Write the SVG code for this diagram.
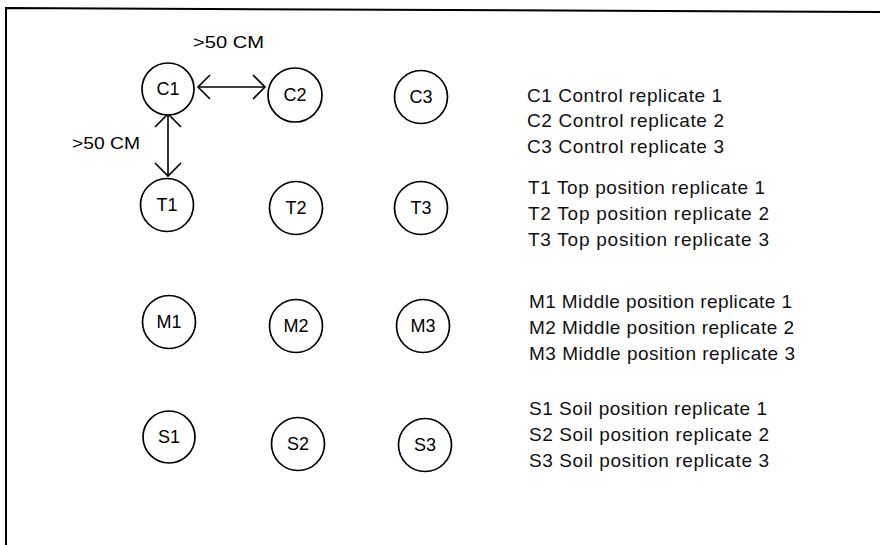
<svg xmlns="http://www.w3.org/2000/svg" width="880" height="545" viewBox="0 0 880 545">
<defs>
<style>
.frame{fill:none;stroke:#000;stroke-width:2}
.node circle{fill:#fff;stroke:#000;stroke-width:1.7}
.node text{font-family:"Liberation Sans",Arial,sans-serif;font-size:18px;fill:#000;text-anchor:middle}
.conn line,.conn polyline{fill:none;stroke:#000;stroke-width:1.6}
.lbl{font-family:"Liberation Sans",Arial,sans-serif;font-size:17px;fill:#000}
.leg{font-family:"Liberation Sans",Arial,sans-serif;font-size:19px;fill:#111}
</style>
</defs>
<rect width="880" height="545" fill="#fff"/>
<polyline class="frame" points="6,545 6,8 880,12"/>

<g id="connectors" class="conn">
<g id="arrow-C1-C2">
<line x1="198" y1="87" x2="265" y2="87"/>
<polyline points="210,75 198,87 210,99"/>
<polyline points="253,75 265,87 253,99"/>
</g>
<g id="arrow-C1-T1">
<line x1="168" y1="114" x2="168" y2="176"/>
<polyline points="155,127 168,114 181,127"/>
<polyline points="155,163 168,176 181,163"/>
</g>
</g>

<text class="lbl" x="193" y="48" textLength="71" lengthAdjust="spacingAndGlyphs">&gt;50 CM</text>
<text class="lbl" x="72" y="149" textLength="68" lengthAdjust="spacingAndGlyphs">&gt;50 CM</text>

<g id="C1" class="node"><circle cx="168" cy="89" r="26"/><text x="168" y="95">C1</text></g>
<g id="C2" class="node"><circle cx="295" cy="95" r="27"/><text x="295" y="101">C2</text></g>
<g id="C3" class="node"><circle cx="421" cy="97" r="26.5"/><text x="421" y="103">C3</text></g>
<g id="T1" class="node"><circle cx="167" cy="205" r="26.5"/><text x="167" y="211">T1</text></g>
<g id="T2" class="node"><circle cx="296" cy="208" r="26.5"/><text x="296" y="214">T2</text></g>
<g id="T3" class="node"><circle cx="421" cy="208" r="26.5"/><text x="421" y="214">T3</text></g>
<g id="M1" class="node"><circle cx="169" cy="322" r="26.5"/><text x="169" y="328">M1</text></g>
<g id="M2" class="node"><circle cx="296" cy="326" r="26.5"/><text x="296" y="332">M2</text></g>
<g id="M3" class="node"><circle cx="423" cy="326" r="26.5"/><text x="423" y="332">M3</text></g>
<g id="S1" class="node"><circle cx="169" cy="437" r="26"/><text x="169" y="443">S1</text></g>
<g id="S2" class="node"><circle cx="298" cy="444" r="26.5"/><text x="298" y="450">S2</text></g>
<g id="S3" class="node"><circle cx="425" cy="445" r="26.5"/><text x="425" y="451">S3</text></g>

<g id="legend">
<text class="leg" x="527" y="102" textLength="195" lengthAdjust="spacing">C1 Control replicate 1</text>
<text class="leg" x="527" y="127" textLength="197" lengthAdjust="spacing">C2 Control replicate 2</text>
<text class="leg" x="527" y="153" textLength="197" lengthAdjust="spacing">C3 Control replicate 3</text>
<text class="leg" x="528" y="194" textLength="237" lengthAdjust="spacing">T1 Top position replicate 1</text>
<text class="leg" x="528" y="220" textLength="241" lengthAdjust="spacing">T2 Top position replicate 2</text>
<text class="leg" x="528" y="246" textLength="241" lengthAdjust="spacing">T3 Top position replicate 3</text>
<text class="leg" x="529" y="308" textLength="263" lengthAdjust="spacing">M1 Middle position replicate 1</text>
<text class="leg" x="529" y="334" textLength="265" lengthAdjust="spacing">M2 Middle position replicate 2</text>
<text class="leg" x="529" y="360" textLength="266" lengthAdjust="spacing">M3 Middle position replicate 3</text>
<text class="leg" x="529" y="415" textLength="238" lengthAdjust="spacing">S1 Soil position replicate 1</text>
<text class="leg" x="529" y="441" textLength="240" lengthAdjust="spacing">S2 Soil position replicate 2</text>
<text class="leg" x="529" y="467" textLength="240" lengthAdjust="spacing">S3 Soil position replicate 3</text>
</g>
</svg>
